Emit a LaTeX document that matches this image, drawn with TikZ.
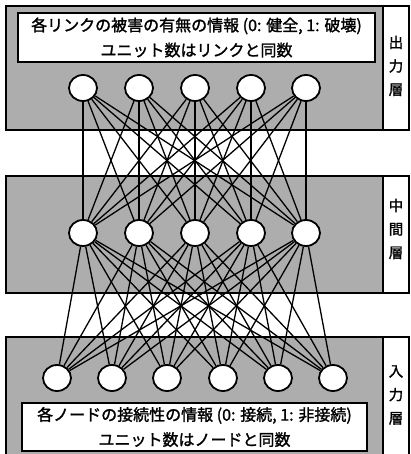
\documentclass[tikz,border=0pt]{standalone}
\usepackage{fontspec}
\newfontfamily\cjk[AutoFakeBold=1.5]{Noto Sans CJK JP}
\pgfdeclarelayer{bg}
\pgfdeclarelayer{edges}
\pgfsetlayers{bg,edges,main}
\tikzset{
  layerbox/.style={draw=black, line width=1.3pt, fill=black!32},
  labelcol/.style={draw=black, line width=1.3pt, fill=white},
  unit/.style={ellipse, draw=black, line width=1.8pt, fill=white, minimum width=28pt, minimum height=26pt, inner sep=0pt},
  textbox/.style={draw=black, line width=1.3pt, fill=white, align=center, inner sep=0pt,
    font=\cjk\bfseries\fontsize{16}{25}\selectfont},
  conn/.style={draw=black, line width=1.3pt},
  sidelabel/.style={font=\cjk\bfseries\fontsize{14.5}{23.5}\selectfont, align=center, inner sep=0pt}
}
\usetikzlibrary{shapes.geometric}
\begin{document}
\begin{tikzpicture}[x=1pt, y=-1pt]
\useasboundingbox (0,0) rectangle (410,454);
% layer boxes
\begin{pgfonlayer}{bg}
\fill[white] (0,0) rectangle (410,454);
\draw[layerbox] (6,6) rectangle (383,130);
\draw[labelcol] (383,6) rectangle (409,130);
\draw[layerbox] (6,176) rectangle (383,293);
\draw[labelcol] (383,176) rectangle (409,293);
\draw[layerbox] (6,337) rectangle (383,456);
\draw[labelcol] (383,337) rectangle (409,456);
\end{pgfonlayer}
% output units
\foreach \i/\x in {1/83,2/139,3/195,4/251,5/306}
  \node[unit] (o\i) at (\x,88) {};
% middle units
\foreach \i/\x in {1/83,2/139,3/195,4/251,5/306}
  \node[unit] (m\i) at (\x,233) {};
% input units
\foreach \i/\x in {1/57,2/112,3/167,4/223,5/278,6/333}
  \node[unit] (n\i) at (\x,378) {};
% connections
\begin{pgfonlayer}{edges}
\foreach \a in {1,...,5}
  \foreach \b in {1,...,5}
    \draw[conn] (o\a) -- (m\b);
\foreach \a in {1,...,5}
  \foreach \b in {1,...,6}
    \draw[conn] (m\a) -- (n\b);
\end{pgfonlayer}
% text boxes
\node[textbox, minimum width=357pt, minimum height=49pt] (otext) at (196.5,37.5)
  {各リンクの被害の有無の情報 (0: 健全, 1: 破壊)\\ユニット数はリンクと同数};
\node[textbox, minimum width=345pt, minimum height=48pt] (itext) at (194.5,427)
  {各ノードの接続性の情報 (0: 接続, 1: 非接続)\\ユニット数はノードと同数};
% side labels
\node[sidelabel] (lout) at (396,66) {出\\力\\層};
\node[sidelabel] (lmid) at (396,229) {中\\間\\層};
\node[sidelabel] (lin) at (396,395) {入\\力\\層};
\end{tikzpicture}
\end{document}
